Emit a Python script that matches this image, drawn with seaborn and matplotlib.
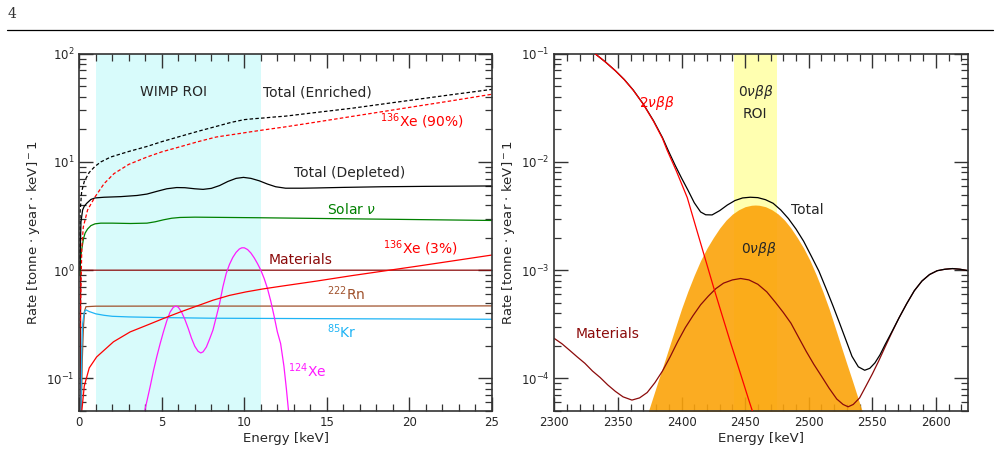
import numpy as np
import matplotlib
matplotlib.use('Agg')
import matplotlib.pyplot as plt
import seaborn as sns
from matplotlib.ticker import MultipleLocator, LogLocator, NullFormatter
from matplotlib.lines import Line2D

# ---- left panel: WIMP region ----
enr_E = [0.02, 0.05, 0.14, 0.3, 0.6, 0.95, 1.3, 1.9, 3, 4.1, 5, 6.1, 7.2, 8.3, 9.2, 10, 10.6, 11.2, 11.8,
         12.5, 14.4, 16.5, 18.4, 20.5, 22.5, 25]
enr_v = [1.0, 3.5, 5.3, 6.6, 8.0, 9.1, 10.0, 11.1, 12.5, 13.9, 15.4, 17.2, 19.2, 21.3, 23.2, 24.6, 25.1, 25.5, 26.0,
         26.5, 28.7, 31.3, 34.3, 37.9, 41.7, 46.8]

xe90_E = [0.05, 0.15, 0.24, 0.5, 0.95, 1.5, 2.1, 3, 4.1, 5, 6.1, 7.2, 8.3, 9.5, 10.4, 11.2, 12.5, 14.4, 16.5,
          18.4, 20.5, 22.5, 25]
xe90_v = [0.3, 1.6, 2.5, 3.6, 4.75, 6.3, 7.8, 9.5, 11.1, 12.4, 13.8, 15.4, 17.0, 18.1, 19.0, 19.8, 21.1, 23.4, 26.3,
          29.2, 32.8, 36.6, 42.2]

dep_E = [0.03, 0.1, 0.2, 0.3, 0.45, 0.7, 0.95, 1.5, 2.5, 3.5, 4.1, 4.7, 5.3, 5.9, 6.4, 7.0, 7.5, 8.0, 8.5, 9.0,
         9.5, 9.95, 10.4, 10.9, 11.4, 11.9, 12.5, 13.5, 14.4, 16, 18.4, 21, 25]
dep_v = [1.0, 2.8, 3.6, 3.9, 4.15, 4.5, 4.65, 4.72, 4.78, 4.9, 5.05, 5.35, 5.65, 5.8, 5.78, 5.65, 5.58, 5.7, 6.05,
         6.6, 7.05, 7.2, 7.05, 6.7, 6.25, 5.9, 5.72, 5.72, 5.75, 5.82, 5.9, 5.95, 6.0]

solar_E = [0.03, 0.08, 0.14, 0.25, 0.35, 0.5, 0.7, 0.95, 1.3, 2, 3.1, 4.1, 4.6, 5.1, 5.6, 6.1, 7, 8, 11, 15, 20, 25]
solar_v = [0.9, 1.3, 1.53, 1.95, 2.2, 2.4, 2.58, 2.68, 2.72, 2.72, 2.7, 2.72, 2.8, 2.92, 3.02, 3.07, 3.09, 3.08,
           3.05, 3.0, 2.94, 2.88]

mat_E = [0.07, 0.08, 25]
mat_v = [0.05, 1.0, 1.0]

rn_E = [0.12, 0.18, 0.25, 0.32, 0.4, 1, 5, 10, 15, 20, 25]
rn_v = [0.05, 0.15, 0.3, 0.42, 0.46, 0.465, 0.466, 0.466, 0.466, 0.467, 0.468]

kr_E = [0.1, 0.15, 0.2, 0.3, 0.4, 0.6, 1, 1.5, 2, 3, 5, 8, 12, 18, 25]
kr_v = [0.05, 0.2, 0.32, 0.41, 0.43, 0.415, 0.395, 0.383, 0.375, 0.37, 0.365, 0.36, 0.358, 0.355, 0.352]

xe3_E = [0.15, 0.3, 0.6, 1.05, 2.07, 3.08, 4.09, 5.1, 6.1, 7.1, 8.1, 9.1, 10.1, 11.1, 12.2, 14.4, 16.5, 18.4,
         20.5, 22.5, 25]
xe3_v = [0.05, 0.085, 0.125, 0.158, 0.218, 0.269, 0.31, 0.358, 0.41, 0.465, 0.528, 0.585, 0.63, 0.67, 0.71,
         0.794, 0.89, 0.98, 1.09, 1.21, 1.38]

xe124_E = [3.96, 4.1, 4.3, 4.5, 4.7, 4.9, 5.1, 5.3, 5.5, 5.7, 5.85, 6.0, 6.2, 6.4, 6.6, 6.8, 7.0, 7.2, 7.36,
           7.5, 7.7, 7.9, 8.1, 8.3, 8.5, 8.7, 8.9, 9.1, 9.3, 9.5, 9.7, 9.85, 10.0, 10.2, 10.4, 10.6, 10.8,
           11.0, 11.2, 11.4, 11.6, 11.8, 12.0, 12.2, 12.4, 12.55, 12.68]
xe124_v = [0.05, 0.062, 0.085, 0.119, 0.16, 0.21, 0.27, 0.34, 0.41, 0.455, 0.466, 0.455, 0.41, 0.35, 0.29,
           0.235, 0.198, 0.178, 0.172, 0.176, 0.195, 0.232, 0.28, 0.37, 0.49, 0.7, 0.93, 1.13, 1.31, 1.46,
           1.57, 1.61, 1.61, 1.55, 1.44, 1.3, 1.15, 1.0, 0.84, 0.68, 0.52, 0.38, 0.27, 0.21, 0.13, 0.08, 0.05]

wimp_roi = (1, 11)

# ---- right panel: 0vbb region ----
tnbb_E = [2332, 2340, 2348, 2355, 2362, 2370, 2378, 2385, 2388.7, 2396, 2404.5, 2412, 2419, 2425.5, 2432,
          2438.7, 2446, 2453, 2460]
tnbb_v = [0.1, 0.0841, 0.0695, 0.0575, 0.046, 0.034, 0.0237, 0.0165, 0.0128, 0.0082, 0.00468, 0.00234,
          0.00123, 0.000676, 0.00038, 0.000211, 0.000114, 6.25e-5, 3.5e-5]

onbb_E = [2374, 2378, 2382, 2386, 2390, 2395, 2400, 2405, 2410, 2415, 2420, 2425, 2430, 2435, 2440, 2445,
          2450, 2455, 2458, 2461, 2466, 2471, 2476, 2481, 2486, 2491, 2496, 2501, 2506, 2511, 2516, 2521,
          2526, 2530, 2534, 2538, 2542]
onbb_v = [5e-5, 7e-5, 9.8e-5, 1.36e-4, 1.9e-4, 2.9e-4, 4.4e-4, 6.4e-4, 9e-4, 1.23e-3, 1.6e-3, 2.0e-3,
          2.45e-3, 2.9e-3, 3.3e-3, 3.62e-3, 3.86e-3, 3.98e-3, 4.0e-3, 3.98e-3, 3.86e-3, 3.62e-3, 3.3e-3,
          2.9e-3, 2.45e-3, 2.0e-3, 1.6e-3, 1.23e-3, 9e-4, 6.4e-4, 4.4e-4, 2.9e-4, 1.9e-4, 1.36e-4, 9.8e-5,
          7e-5, 5e-5]

matr_E = [2300, 2306, 2312, 2318, 2324, 2330, 2336, 2342, 2348, 2354, 2361, 2367, 2373, 2379, 2385, 2391,
          2397, 2403, 2409, 2415, 2421, 2427, 2433, 2440, 2446.5, 2453, 2460, 2467, 2474, 2480, 2486, 2492,
          2498, 2504, 2510, 2516, 2522, 2527, 2531, 2535, 2540, 2545, 2550, 2555, 2560, 2565, 2571, 2577,
          2583, 2589, 2595, 2601, 2607, 2613, 2619, 2626]
matr_v = [2.34e-4, 2.09e-4, 1.82e-4, 1.58e-4, 1.38e-4, 1.17e-4, 1.02e-4, 8.71e-5, 7.59e-5, 6.76e-5, 6.31e-5,
          6.61e-5, 7.41e-5, 9.12e-5, 1.17e-4, 1.58e-4, 2.19e-4, 2.95e-4, 3.80e-4, 4.79e-4, 5.75e-4, 6.76e-4,
          7.59e-4, 8.13e-4, 8.38e-4, 8.13e-4, 7.41e-4, 6.31e-4, 5.01e-4, 4.07e-4, 3.24e-4, 2.40e-4, 1.78e-4,
          1.35e-4, 1.05e-4, 8.13e-5, 6.46e-5, 5.75e-5, 5.47e-5, 5.75e-5, 6.61e-5, 8.51e-5, 1.10e-4, 1.45e-4,
          1.95e-4, 2.60e-4, 3.63e-4, 4.90e-4, 6.46e-4, 7.94e-4, 9.12e-4, 9.89e-4, 1.02e-3, 1.035e-3, 1.02e-3,
          9.86e-4]

totr_E = [2332, 2340, 2348, 2355, 2362, 2370, 2378, 2385, 2390, 2395, 2400, 2405, 2410, 2415, 2419, 2424,
          2430, 2436, 2442, 2448, 2454, 2460, 2466, 2472, 2478, 2484, 2490, 2496, 2502, 2508, 2514, 2519,
          2524, 2529, 2534, 2539, 2544, 2548, 2552, 2556, 2560, 2565, 2571, 2577, 2583, 2589, 2595, 2601,
          2607, 2613, 2619, 2626]
totr_v = [0.1, 0.0842, 0.0696, 0.0577, 0.0462, 0.0342, 0.024, 0.0168, 0.0124, 0.0093, 0.0071, 0.0055,
          0.0042, 0.00345, 0.00325, 0.00324, 0.00355, 0.0040, 0.0044, 0.00465, 0.00472, 0.00468, 0.00448,
          0.00415, 0.0036, 0.0030, 0.0024, 0.00185, 0.00135, 0.00098, 0.00066, 0.00047, 0.00033, 0.00023,
          0.00016, 0.000128, 0.000119, 0.000124, 0.000139, 0.000165, 0.000205, 0.000265, 3.63e-4, 4.9e-4,
          6.46e-4, 7.94e-4, 9.12e-4, 9.89e-4, 1.02e-3, 1.035e-3, 1.02e-3, 9.86e-4]

onbb_roi = (2441.5, 2474.7)

# style
sns.set_style("ticks")
plt.rcParams['font.family'] = ['DejaVu Sans']
plt.rcParams['mathtext.fontset'] = 'dejavusans'

LW = 0.9
FRAME = '0.2'

fig = plt.figure(figsize=(9.99, 4.49), dpi=100)
axL = fig.add_axes([0.0794, 0.0846, 0.4129, 0.7958])
axR = fig.add_axes([0.5549, 0.0846, 0.4138, 0.7958])


def curve(ax, x, y, color, ls='-', z=2):
    kw = dict(dashes=(2.8, 1.8)) if ls == '--' else {}
    sns.lineplot(x=x, y=y, ax=ax, color=color, lw=LW, zorder=z, **kw)


# left panel
axL.axvspan(*wimp_roi, color='#d8fbfb', lw=0, zorder=0)
curve(axL, mat_E, mat_v, '#8b0a0a')
curve(axL, rn_E, rn_v, '#a0522d')
curve(axL, kr_E, kr_v, '#1eb4f5')
curve(axL, xe124_E, xe124_v, '#ff1aff')
curve(axL, solar_E, solar_v, 'green')
curve(axL, xe3_E, xe3_v, 'red')
curve(axL, dep_E, dep_v, 'black')
curve(axL, xe90_E, xe90_v, 'red', ls='--')
curve(axL, enr_E, enr_v, 'black', ls='--')

axL.set_yscale('log')
axL.set_xlim(0, 25)
axL.set_ylim(0.05, 100)
axL.xaxis.set_major_locator(MultipleLocator(5))
axL.xaxis.set_minor_locator(MultipleLocator(1))

FS = 10
axL.text(5.68, 44, 'WIMP ROI', fontsize=FS, ha='center', va='center')
axL.text(11.15, 44, 'Total (Enriched)', fontsize=FS, ha='left', va='center')
axL.text(18.2, 23.8, r'$^{136}$Xe (90%)', fontsize=FS, ha='left', va='center', color='red')
axL.text(13.0, 7.9, 'Total (Depleted)', fontsize=FS, ha='left', va='center')
axL.text(15.0, 3.66, r'Solar $\nu$', fontsize=FS, ha='left', va='center', color='green')
axL.text(18.4, 1.59, r'$^{136}$Xe (3%)', fontsize=FS, ha='left', va='center', color='red')
axL.text(11.45, 1.24, 'Materials', fontsize=FS, ha='left', va='center', color='#8b0a0a')
axL.text(15.0, 0.61, r'$^{222}$Rn', fontsize=FS, ha='left', va='center', color='#a0522d')
axL.text(15.0, 0.27, r'$^{85}$Kr', fontsize=FS, ha='left', va='center', color='#1eb4f5')
axL.text(12.65, 0.119, r'$^{124}$Xe', fontsize=FS, ha='left', va='center', color='#ff1aff')

# right panel
axR.axvspan(*onbb_roi, color='#ffffb0', lw=0, zorder=0)
axR.fill_between(onbb_E, 1e-6, onbb_v, color='#fba30a', alpha=0.9, lw=0, zorder=1)
curve(axR, matr_E, matr_v, '#8b0a0a')
curve(axR, totr_E, totr_v, 'black')
curve(axR, tnbb_E, tnbb_v, 'red', z=3)

axR.set_yscale('log')
axR.set_xlim(2300, 2625)
axR.set_ylim(5e-5, 0.1)
axR.xaxis.set_major_locator(MultipleLocator(50))
axR.xaxis.set_minor_locator(MultipleLocator(10))

axR.text(2380.3, 0.035, r'$2\nu\beta\beta$', fontsize=FS, ha='center', va='center', color='red')
axR.text(2458.4, 0.0443, r'$0\nu\beta\beta$', fontsize=FS, ha='center', va='center')
axR.text(2457.6, 0.028, 'ROI', fontsize=FS, ha='center', va='center')
axR.text(2486, 3.58e-3, 'Total', fontsize=FS, ha='left', va='center')
axR.text(2460.5, 1.58e-3, r'$0\nu\beta\beta$', fontsize=FS, ha='center', va='center')
axR.text(2342, 2.6e-4, 'Materials', fontsize=FS, ha='center', va='center', color='#8b0a0a')

for ax in (axL, axR):
    ax.yaxis.set_major_locator(LogLocator(base=10, numticks=10))
    ax.yaxis.set_minor_locator(LogLocator(base=10, subs=np.arange(2, 10), numticks=20))
    ax.yaxis.set_minor_formatter(NullFormatter())
    ax.tick_params(which='both', direction='in', top=True, right=True, color=FRAME, labelsize=8.5)
    ax.tick_params(which='major', length=10, width=1.0)
    ax.tick_params(which='minor', length=5, width=0.9)
    for s in ax.spines.values():
        s.set_color(FRAME)
        s.set_linewidth(1.2)
    ax.set_xlabel('Energy [keV]', fontsize=9.5, labelpad=2)
    ax.set_ylabel(r'Rate [tonne $\cdot$ year $\cdot$ keV]$^-1$', fontsize=9.5, labelpad=3)

# page header
fig.text(0.008, 0.968, '4', fontsize=10, family='DejaVu Serif', ha='left', va='center', color='0.2')
fig.add_artist(Line2D([0.007, 0.994], [0.933, 0.933], color='black', lw=0.9))

fig.savefig('out.png', dpi=100)
